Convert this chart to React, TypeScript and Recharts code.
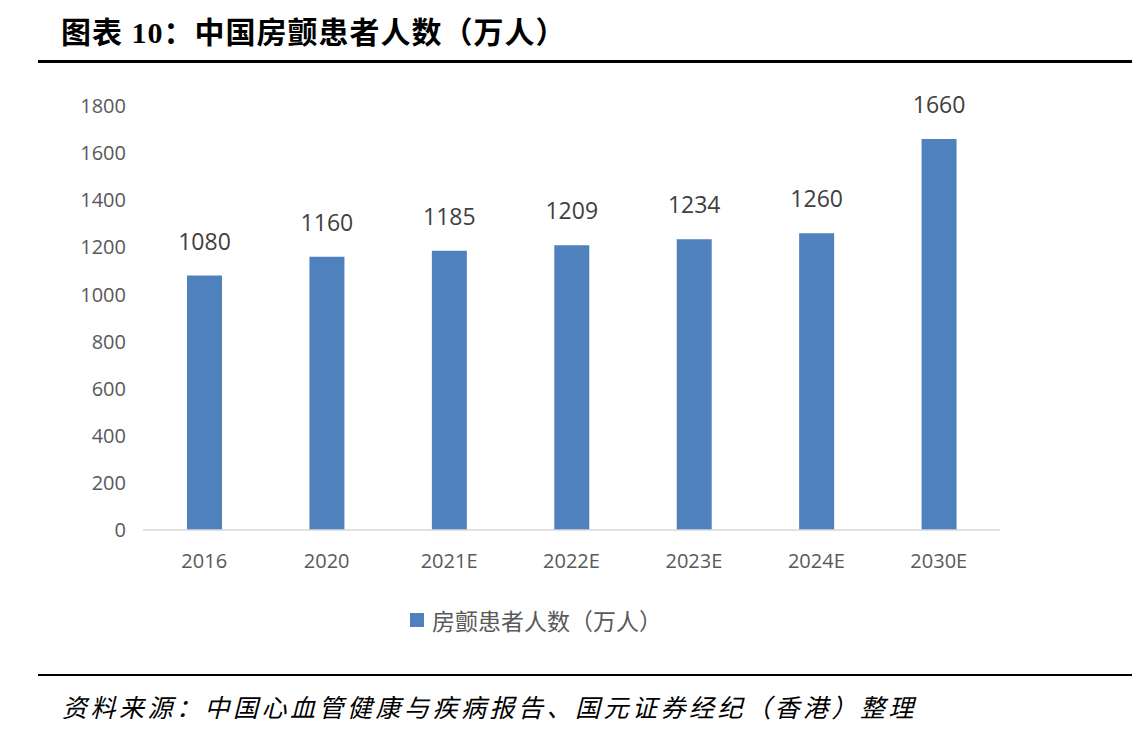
import React from 'react';
import { BarChart, Bar, XAxis, YAxis, LabelList, Legend } from 'recharts';

const years = ['2016', '2020', '2021E', '2022E', '2023E', '2024E', '2030E'];
const patients = [1080, 1160, 1185, 1209, 1234, 1260, 1660];
const yTicks = [0, 200, 400, 600, 800, 1000, 1200, 1400, 1600, 1800];

const seriesName = '房颤患者人数（万人）';

const colors = {
  bar: '#4f81bd',
  text: '#595959',
  label: '#404040',
  axis: '#d9d9d9',
};

const numFont = '"Open Sans", "Noto Sans", sans-serif';
const cjkFont = '"Noto Sans CJK SC", sans-serif';

const data = years.map((year, i) => ({ year, value: patients[i] }));

const LegendContent = () => (
  <div style={{ display: 'flex', alignItems: 'center', fontFamily: cjkFont, fontSize: 23, color: colors.text, lineHeight: '34px' }}>
    <span style={{ width: 14, height: 14, background: colors.bar, display: 'inline-block', marginRight: 8 }} />
    <span>{seriesName}</span>
  </div>
);

export default function App() {
  return (
    <div style={{ position: 'fixed', left: 0, top: 0, width: 1132, height: 738, background: '#fff', overflow: 'hidden' }}>
      <div
        style={{
          position: 'absolute',
          left: 61,
          top: 14,
          fontFamily: '"Liberation Serif", "Noto Sans CJK SC", serif',
          fontWeight: 'bold',
          fontSize: 30,
          letterSpacing: 1,
          lineHeight: '38px',
          color: '#000',
          whiteSpace: 'nowrap',
        }}
      >
        图表 10：中国房颤患者人数（万人）
      </div>
      <div style={{ position: 'absolute', left: 38, top: 60, width: 1094, height: 2.5, background: '#000' }} />

      <div style={{ position: 'absolute', left: 0, top: 0 }}>
        <BarChart width={1132} height={660} data={data} margin={{ top: 106, right: 132, bottom: 56, left: 0 }}>
          <XAxis
            dataKey="year"
            tickLine={false}
            axisLine={{ stroke: colors.axis, strokeWidth: 1.5 }}
            tick={{ fontSize: 20, fill: colors.text, fontFamily: numFont }}
            tickMargin={18}
            height={40}
          />
          <YAxis
            domain={[0, 1800]}
            ticks={yTicks}
            interval={0}
            axisLine={false}
            tickLine={false}
            width={143}
            tickMargin={11}
            tick={{ fontSize: 20, fill: colors.text, fontFamily: numFont }}
          />
          <Legend
            verticalAlign="bottom"
            content={<LegendContent />}
            wrapperStyle={{ position: 'absolute', left: 410, top: 603, width: 'auto' }}
          />
          <Bar dataKey="value" name={seriesName} fill={colors.bar} barSize={35} isAnimationActive={false}>
            <LabelList
              dataKey="value"
              position="top"
              offset={26}
              style={{ fontSize: 23, fill: colors.label, fontFamily: numFont }}
            />
          </Bar>
        </BarChart>
      </div>

      <div style={{ position: 'absolute', left: 38, top: 674, width: 1094, height: 2, background: '#000' }} />
      <div
        style={{
          position: 'absolute',
          left: 62,
          top: 688,
          fontFamily: '"Noto Sans CJK SC", serif',
          fontStyle: 'italic',
          fontSize: 25,
          letterSpacing: 3.5,
          color: '#000',
          whiteSpace: 'nowrap',
        }}
      >
        资料来源：中国心血管健康与疾病报告、国元证券经纪（香港）整理
      </div>
    </div>
  );
}
